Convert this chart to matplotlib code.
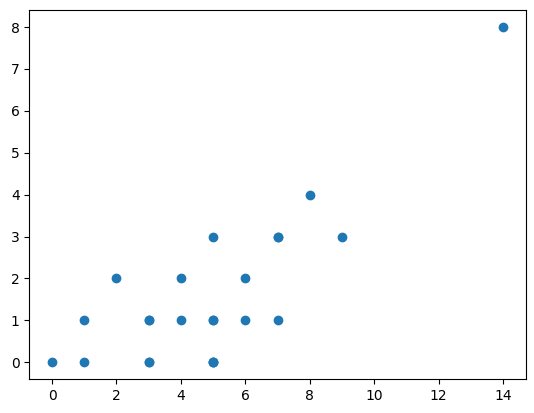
import matplotlib
matplotlib.use("Agg")
import matplotlib.pyplot as plt

# points (repeats drawn twice, they look darker there)
x_vals = [0, 1, 1, 2, 3, 3, 3, 3, 4, 4, 5, 5, 5, 5, 5, 5, 6, 6, 7, 7, 7, 8, 9, 14]
y_vals = [0, 0, 1, 2, 0, 0, 1, 1, 1, 2, 0, 0, 0, 1, 1, 3, 1, 2, 1, 3, 3, 4, 3, 8]

fig, ax = plt.subplots(figsize=(5.34, 4.13), dpi=100)
fig.subplots_adjust(left=0.0552, right=0.9845, top=0.975, bottom=0.0823)

ax.scatter(x_vals, y_vals)

fig.savefig("out.png")
